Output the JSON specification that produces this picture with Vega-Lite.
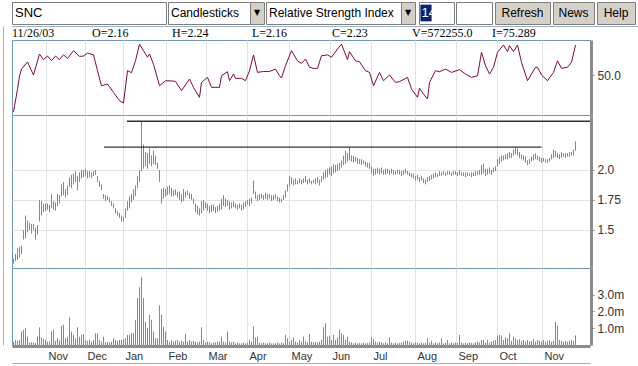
{
"$schema": "https://vega.github.io/schema/vega-lite/v6.json",
"background": "white",
"padding": {"left": 2, "top": 1, "right": 0, "bottom": 0},
"spacing": 1,
"config": {"view": {"stroke": null}, "text": {"font": "Liberation Sans", "fontSize": 12, "color": "#000000"}, "axis": {"title": null}},
"datasets": {
"info": [{"t":"11/26/03"},{"t":"O=2.16"},{"t":"H=2.24"},{"t":"L=2.16"},{"t":"C=2.23"},{"t":"V=572255.0"},{"t":"I=75.289"}],
"tl": [{"a":56.75,"b":288.25,"p":2.406},{"a":45.25,"b":264,"p":2.19}],
"rsi": [{"i":0,"r":19},{"i":2,"r":38},{"i":3,"r":49},{"i":4,"r":55},{"i":7,"r":61},{"i":10,"r":50},{"i":13,"r":67.7},{"i":15,"r":63},{"i":17,"r":66},{"i":19,"r":62},{"i":21,"r":66},{"i":23,"r":63},{"i":25,"r":67},{"i":27,"r":64},{"i":30,"r":70.5},{"i":33,"r":65.7},{"i":35,"r":66},{"i":37,"r":68.5},{"i":40,"r":67},{"i":42,"r":53.6},{"i":44,"r":41},{"i":47,"r":42.4},{"i":50,"r":35.4},{"i":53,"r":28.4},{"i":55,"r":26.4},{"i":57,"r":53.6},{"i":59,"r":52},{"i":61,"r":62},{"i":63,"r":76},{"i":65,"r":70.5},{"i":67,"r":65},{"i":68,"r":67.7},{"i":70,"r":59},{"i":73,"r":41},{"i":76,"r":45.2},{"i":79,"r":45},{"i":81,"r":44.7},{"i":84,"r":36.8},{"i":88,"r":46.6},{"i":90,"r":39.6},{"i":93,"r":31.2},{"i":94,"r":43.8},{"i":97,"r":48},{"i":99,"r":39.6},{"i":103,"r":39.6},{"i":104,"r":49.4},{"i":107,"r":52.8},{"i":108,"r":45.2},{"i":110,"r":50.8},{"i":111,"r":47.2},{"i":114,"r":47.2},{"i":116,"r":45.2},{"i":118,"r":53.6},{"i":120,"r":66.9},{"i":122,"r":52.2},{"i":125,"r":53},{"i":128,"r":53},{"i":131,"r":55},{"i":133,"r":49.4},{"i":134,"r":47.5},{"i":136,"r":57.9},{"i":139,"r":70.5},{"i":142,"r":62},{"i":144,"r":59.8},{"i":146,"r":63.5},{"i":148,"r":56.5},{"i":150,"r":55.6},{"i":152,"r":55.6},{"i":154,"r":66.3},{"i":157,"r":66.9},{"i":159,"r":65},{"i":162,"r":71.9},{"i":164,"r":76.1},{"i":167,"r":62.9},{"i":168,"r":69.7},{"i":171,"r":62},{"i":173,"r":61.2},{"i":176,"r":53.6},{"i":178,"r":52.2},{"i":180,"r":41},{"i":183,"r":52.2},{"i":185,"r":45.2},{"i":188,"r":50},{"i":191,"r":43.8},{"i":193,"r":44.4},{"i":197,"r":48},{"i":199,"r":38.2},{"i":202,"r":31.2},{"i":203,"r":38.8},{"i":205,"r":34},{"i":207,"r":29.8},{"i":208,"r":43.8},{"i":211,"r":53.6},{"i":213,"r":52.8},{"i":216,"r":55},{"i":219,"r":52.2},{"i":223,"r":54.5},{"i":226,"r":50.8},{"i":229,"r":48},{"i":232,"r":49.4},{"i":234,"r":69.1},{"i":236,"r":57.9},{"i":238,"r":50.8},{"i":240,"r":56.5},{"i":242,"r":69.1},{"i":245,"r":75.3},{"i":247,"r":69.7},{"i":248,"r":74.7},{"i":250,"r":69.7},{"i":252,"r":75.3},{"i":254,"r":60.7},{"i":257,"r":45.2},{"i":261,"r":56.5},{"i":262,"r":56.5},{"i":264,"r":50},{"i":267,"r":45.2},{"i":270,"r":52.2},{"i":272,"r":62},{"i":274,"r":55.6},{"i":277,"r":56.5},{"i":279,"r":60.7},{"i":281,"r":75.289}],
"d": [
{"i":0,"l":1.22,"h":1.26,"v":0.2},{"i":1,"l":1.24,"h":1.30,"v":0.3},{"i":2,"l":1.25,"h":1.35,"v":0.25},{"i":3,"l":1.27,"h":1.36,"v":0.3},{"i":4,"l":1.30,"h":1.37,"v":0.8},{"i":5,"l":1.42,"h":1.50,"v":0.9},{"i":6,"l":1.43,"h":1.62,"v":1.0},{"i":7,"l":1.48,"h":1.58,"v":0.5},{"i":8,"l":1.50,"h":1.56,"v":0.15},{"i":9,"l":1.47,"h":1.55,"v":0.15},
{"i":10,"l":1.50,"h":1.55,"v":0.15},{"i":11,"l":1.42,"h":1.52,"v":0.12},{"i":12,"l":1.46,"h":1.54,"v":0.5},{"i":13,"l":1.57,"h":1.75,"v":1.05},{"i":14,"l":1.62,"h":1.74,"v":0.45},{"i":15,"l":1.65,"h":1.72,"v":0.35},{"i":16,"l":1.66,"h":1.72,"v":0.3},{"i":17,"l":1.67,"h":1.72,"v":0.2},{"i":18,"l":1.65,"h":1.71,"v":0.2},{"i":19,"l":1.68,"h":1.80,"v":0.8},
{"i":20,"l":1.67,"h":1.74,"v":0.9},{"i":21,"l":1.66,"h":1.73,"v":0.25},{"i":22,"l":1.70,"h":1.80,"v":0.4},{"i":23,"l":1.72,"h":1.79,"v":0.3},{"i":24,"l":1.78,"h":1.88,"v":1.15},{"i":25,"l":1.79,"h":1.90,"v":1.2},{"i":26,"l":1.77,"h":1.84,"v":0.4},{"i":27,"l":1.79,"h":1.87,"v":0.5},{"i":28,"l":1.86,"h":1.94,"v":1.65},{"i":29,"l":1.85,"h":1.96,"v":0.8},
{"i":30,"l":1.88,"h":1.97,"v":0.6},{"i":31,"l":1.90,"h":1.99,"v":0.4},{"i":32,"l":1.83,"h":1.95,"v":1.05},{"i":33,"l":1.90,"h":1.98,"v":0.5},{"i":34,"l":1.93,"h":2.00,"v":0.6},{"i":35,"l":1.94,"h":2.00,"v":0.65},{"i":36,"l":1.95,"h":2.01,"v":0.3},{"i":37,"l":1.93,"h":1.99,"v":0.25},{"i":38,"l":1.94,"h":1.99,"v":0.3},{"i":39,"l":1.93,"h":1.98,"v":0.2},
{"i":40,"l":1.95,"h":1.99,"v":0.3},{"i":41,"l":1.96,"h":2.00,"v":0.7},{"i":42,"l":1.90,"h":1.95,"v":0.7},{"i":43,"l":1.86,"h":1.91,"v":0.3},{"i":44,"l":1.83,"h":1.88,"v":0.2},{"i":45,"l":1.76,"h":1.80,"v":0.5},{"i":46,"l":1.74,"h":1.79,"v":0.15},{"i":47,"l":1.75,"h":1.78,"v":0.2},{"i":48,"l":1.73,"h":1.77,"v":0.15},{"i":49,"l":1.70,"h":1.74,"v":0.2},
{"i":50,"l":1.68,"h":1.72,"v":0.4},{"i":51,"l":1.64,"h":1.68,"v":0.3},{"i":52,"l":1.62,"h":1.66,"v":0.25},{"i":53,"l":1.60,"h":1.64,"v":0.3},{"i":54,"l":1.57,"h":1.62,"v":0.3},{"i":55,"l":1.57,"h":1.61,"v":0.35},{"i":56,"l":1.60,"h":1.68,"v":0.4},{"i":57,"l":1.66,"h":1.74,"v":0.6},{"i":58,"l":1.68,"h":1.78,"v":0.6},{"i":59,"l":1.73,"h":1.80,"v":0.7},
{"i":60,"l":1.75,"h":1.84,"v":0.7},{"i":61,"l":1.78,"h":1.87,"v":1.5},{"i":62,"l":1.85,"h":1.95,"v":2.8},{"i":63,"l":1.90,"h":2.00,"v":3.44},{"i":64,"l":1.99,"h":2.41,"v":4.04},{"i":65,"l":2.01,"h":2.21,"v":2.8},{"i":66,"l":2.03,"h":2.15,"v":1.38},{"i":67,"l":2.01,"h":2.14,"v":1.0},{"i":68,"l":2.05,"h":2.18,"v":1.8},{"i":69,"l":2.03,"h":2.12,"v":1.5},
{"i":70,"l":2.05,"h":2.16,"v":0.8},{"i":71,"l":2.04,"h":2.12,"v":0.4},{"i":72,"l":2.01,"h":2.06,"v":0.4},{"i":73,"l":1.90,"h":2.00,"v":2.37},{"i":74,"l":1.72,"h":1.84,"v":1.8},{"i":75,"l":1.76,"h":1.85,"v":1.08},{"i":76,"l":1.78,"h":1.84,"v":0.8},{"i":77,"l":1.79,"h":1.86,"v":0.3},{"i":78,"l":1.80,"h":1.87,"v":0.2},{"i":79,"l":1.78,"h":1.85,"v":0.3},
{"i":80,"l":1.78,"h":1.83,"v":0.2},{"i":81,"l":1.79,"h":1.84,"v":0.25},{"i":82,"l":1.77,"h":1.82,"v":0.3},{"i":83,"l":1.75,"h":1.82,"v":0.2},{"i":84,"l":1.73,"h":1.80,"v":0.25},{"i":85,"l":1.74,"h":1.84,"v":0.2},{"i":86,"l":1.77,"h":1.82,"v":0.65},{"i":87,"l":1.79,"h":1.83,"v":0.2},{"i":88,"l":1.76,"h":1.81,"v":0.3},{"i":89,"l":1.75,"h":1.80,"v":0.2},
{"i":90,"l":1.72,"h":1.76,"v":0.25},{"i":91,"l":1.65,"h":1.72,"v":0.2},{"i":92,"l":1.63,"h":1.70,"v":0.15},{"i":93,"l":1.62,"h":1.68,"v":0.2},{"i":94,"l":1.64,"h":1.74,"v":1.05},{"i":95,"l":1.66,"h":1.75,"v":0.3},{"i":96,"l":1.68,"h":1.73,"v":0.15},{"i":97,"l":1.66,"h":1.72,"v":0.2},{"i":98,"l":1.64,"h":1.70,"v":0.15},{"i":99,"l":1.65,"h":1.71,"v":0.1},
{"i":100,"l":1.66,"h":1.71,"v":0.15},{"i":101,"l":1.64,"h":1.69,"v":0.15},{"i":102,"l":1.65,"h":1.70,"v":0.2},{"i":103,"l":1.66,"h":1.72,"v":0.2},{"i":104,"l":1.67,"h":1.76,"v":0.5},{"i":105,"l":1.70,"h":1.79,"v":0.2},{"i":106,"l":1.69,"h":1.76,"v":0.15},{"i":107,"l":1.70,"h":1.75,"v":0.8},{"i":108,"l":1.67,"h":1.74,"v":0.2},{"i":109,"l":1.68,"h":1.73,"v":0.15},
{"i":110,"l":1.69,"h":1.74,"v":0.2},{"i":111,"l":1.68,"h":1.72,"v":0.1},{"i":112,"l":1.67,"h":1.71,"v":0.15},{"i":113,"l":1.68,"h":1.72,"v":0.1},{"i":114,"l":1.66,"h":1.71,"v":0.1},{"i":115,"l":1.67,"h":1.73,"v":0.15},{"i":116,"l":1.69,"h":1.74,"v":0.1},{"i":117,"l":1.71,"h":1.75,"v":0.15},{"i":118,"l":1.70,"h":1.76,"v":0.3},{"i":119,"l":1.72,"h":1.77,"v":0.2},
{"i":120,"l":1.80,"h":1.91,"v":1.1},{"i":121,"l":1.76,"h":1.82,"v":0.45},{"i":122,"l":1.74,"h":1.79,"v":0.5},{"i":123,"l":1.75,"h":1.80,"v":0.15},{"i":124,"l":1.76,"h":1.80,"v":0.1},{"i":125,"l":1.75,"h":1.79,"v":0.15},{"i":126,"l":1.76,"h":1.81,"v":0.1},{"i":127,"l":1.75,"h":1.80,"v":0.1},{"i":128,"l":1.76,"h":1.80,"v":0.15},{"i":129,"l":1.74,"h":1.79,"v":0.1},
{"i":130,"l":1.75,"h":1.79,"v":0.1},{"i":131,"l":1.76,"h":1.80,"v":0.1},{"i":132,"l":1.74,"h":1.78,"v":0.15},{"i":133,"l":1.73,"h":1.77,"v":0.1},{"i":134,"l":1.73,"h":1.76,"v":0.15},{"i":135,"l":1.75,"h":1.79,"v":0.1},{"i":136,"l":1.77,"h":1.83,"v":0.6},{"i":137,"l":1.82,"h":1.88,"v":0.4},{"i":138,"l":1.86,"h":1.95,"v":0.2},{"i":139,"l":1.88,"h":1.94,"v":0.3},
{"i":140,"l":1.87,"h":1.92,"v":0.45},{"i":141,"l":1.88,"h":1.93,"v":0.2},{"i":142,"l":1.88,"h":1.91,"v":0.15},{"i":143,"l":1.89,"h":1.93,"v":0.3},{"i":144,"l":1.88,"h":1.92,"v":0.2},{"i":145,"l":1.89,"h":1.93,"v":0.5},{"i":146,"l":1.90,"h":1.95,"v":0.2},{"i":147,"l":1.88,"h":1.92,"v":0.15},{"i":148,"l":1.89,"h":1.93,"v":0.65},{"i":149,"l":1.88,"h":1.91,"v":0.2},
{"i":150,"l":1.89,"h":1.92,"v":0.15},{"i":151,"l":1.88,"h":1.93,"v":0.2},{"i":152,"l":1.89,"h":1.94,"v":0.15},{"i":153,"l":1.87,"h":1.92,"v":0.2},{"i":154,"l":1.90,"h":1.95,"v":0.3},{"i":155,"l":1.92,"h":1.98,"v":1.05},{"i":156,"l":1.93,"h":2.00,"v":1.3},{"i":157,"l":1.94,"h":2.01,"v":0.5},{"i":158,"l":1.96,"h":2.02,"v":0.55},{"i":159,"l":1.95,"h":2.03,"v":0.3},
{"i":160,"l":1.97,"h":2.05,"v":0.6},{"i":161,"l":1.98,"h":2.04,"v":0.3},{"i":162,"l":1.99,"h":2.05,"v":0.45},{"i":163,"l":2.00,"h":2.06,"v":0.9},{"i":164,"l":2.02,"h":2.08,"v":0.7},{"i":165,"l":2.04,"h":2.12,"v":0.6},{"i":166,"l":2.05,"h":2.16,"v":0.3},{"i":167,"l":2.07,"h":2.14,"v":0.5},{"i":168,"l":2.08,"h":2.19,"v":0.2},{"i":169,"l":2.07,"h":2.12,"v":0.15},
{"i":170,"l":2.06,"h":2.12,"v":0.1},{"i":171,"l":2.07,"h":2.11,"v":0.15},{"i":172,"l":2.05,"h":2.10,"v":0.1},{"i":173,"l":2.05,"h":2.09,"v":0.12},{"i":174,"l":2.04,"h":2.09,"v":0.1},{"i":175,"l":2.05,"h":2.08,"v":0.15},{"i":176,"l":2.03,"h":2.07,"v":0.1},{"i":177,"l":2.02,"h":2.06,"v":0.12},{"i":178,"l":2.01,"h":2.06,"v":0.15},{"i":179,"l":1.97,"h":2.03,"v":0.45},
{"i":180,"l":1.95,"h":2.01,"v":0.35},{"i":181,"l":1.96,"h":2.01,"v":0.2},{"i":182,"l":1.97,"h":2.02,"v":0.15},{"i":183,"l":1.96,"h":2.01,"v":0.2},{"i":184,"l":1.97,"h":2.02,"v":0.15},{"i":185,"l":1.96,"h":2.00,"v":0.1},{"i":186,"l":1.96,"h":2.01,"v":0.15},{"i":187,"l":1.97,"h":2.01,"v":0.1},{"i":188,"l":1.96,"h":2.00,"v":0.45},{"i":189,"l":1.97,"h":2.01,"v":0.15},
{"i":190,"l":1.96,"h":2.00,"v":0.1},{"i":191,"l":1.96,"h":1.99,"v":0.15},{"i":192,"l":1.97,"h":2.00,"v":0.1},{"i":193,"l":1.96,"h":2.00,"v":0.12},{"i":194,"l":1.95,"h":1.99,"v":0.15},{"i":195,"l":1.96,"h":2.00,"v":0.2},{"i":196,"l":1.97,"h":2.01,"v":0.25},{"i":197,"l":1.96,"h":1.99,"v":0.25},{"i":198,"l":1.95,"h":1.98,"v":0.2},{"i":199,"l":1.94,"h":1.97,"v":0.15},
{"i":200,"l":1.93,"h":1.97,"v":0.1},{"i":201,"l":1.91,"h":1.95,"v":0.15},{"i":202,"l":1.92,"h":1.96,"v":0.12},{"i":203,"l":1.90,"h":1.94,"v":0.1},{"i":204,"l":1.91,"h":1.95,"v":0.15},{"i":205,"l":1.89,"h":1.93,"v":0.1},{"i":206,"l":1.88,"h":1.92,"v":0.12},{"i":207,"l":1.90,"h":1.94,"v":0.4},{"i":208,"l":1.91,"h":1.95,"v":0.15},{"i":209,"l":1.92,"h":1.96,"v":0.25},
{"i":210,"l":1.93,"h":1.97,"v":0.1},{"i":211,"l":1.94,"h":1.98,"v":0.15},{"i":212,"l":1.94,"h":1.97,"v":0.1},{"i":213,"l":1.95,"h":1.99,"v":0.15},{"i":214,"l":1.95,"h":1.98,"v":0.4},{"i":215,"l":1.96,"h":1.99,"v":0.1},{"i":216,"l":1.95,"h":1.98,"v":0.15},{"i":217,"l":1.96,"h":1.99,"v":0.3},{"i":218,"l":1.96,"h":1.99,"v":0.1},{"i":219,"l":1.95,"h":1.98,"v":0.15},
{"i":220,"l":1.96,"h":1.99,"v":0.1},{"i":221,"l":1.96,"h":1.99,"v":0.15},{"i":222,"l":1.95,"h":1.98,"v":0.12},{"i":223,"l":1.96,"h":2.00,"v":0.6},{"i":224,"l":1.95,"h":1.98,"v":0.15},{"i":225,"l":1.95,"h":1.98,"v":0.1},{"i":226,"l":1.94,"h":1.98,"v":0.12},{"i":227,"l":1.95,"h":1.98,"v":0.1},{"i":228,"l":1.95,"h":1.97,"v":0.15},{"i":229,"l":1.94,"h":1.98,"v":0.12},
{"i":230,"l":1.95,"h":1.98,"v":0.1},{"i":231,"l":1.95,"h":1.99,"v":0.15},{"i":232,"l":1.96,"h":1.99,"v":0.2},{"i":233,"l":1.96,"h":2.00,"v":0.15},{"i":234,"l":1.96,"h":2.04,"v":0.3},{"i":235,"l":1.97,"h":2.05,"v":0.3},{"i":236,"l":1.95,"h":2.01,"v":0.15},{"i":237,"l":1.96,"h":2.01,"v":0.3},{"i":238,"l":1.97,"h":2.02,"v":0.15},{"i":239,"l":1.96,"h":2.00,"v":0.2},
{"i":240,"l":1.98,"h":2.02,"v":0.25},{"i":241,"l":1.99,"h":2.03,"v":0.3},{"i":242,"l":2.03,"h":2.09,"v":0.55},{"i":243,"l":2.05,"h":2.11,"v":0.6},{"i":244,"l":2.07,"h":2.12,"v":0.55},{"i":245,"l":2.08,"h":2.12,"v":0.3},{"i":246,"l":2.09,"h":2.13,"v":0.45},{"i":247,"l":2.09,"h":2.14,"v":0.4},{"i":248,"l":2.10,"h":2.15,"v":0.7},{"i":249,"l":2.10,"h":2.14,"v":0.25},
{"i":250,"l":2.12,"h":2.17,"v":0.5},{"i":251,"l":2.13,"h":2.19,"v":0.4},{"i":252,"l":2.12,"h":2.18,"v":0.3},{"i":253,"l":2.10,"h":2.15,"v":0.35},{"i":254,"l":2.09,"h":2.13,"v":0.25},{"i":255,"l":2.08,"h":2.12,"v":0.3},{"i":256,"l":2.06,"h":2.11,"v":0.2},{"i":257,"l":2.04,"h":2.08,"v":0.3},{"i":258,"l":2.05,"h":2.09,"v":0.2},{"i":259,"l":2.07,"h":2.11,"v":0.25},
{"i":260,"l":2.08,"h":2.13,"v":0.35},{"i":261,"l":2.09,"h":2.14,"v":0.2},{"i":262,"l":2.08,"h":2.12,"v":0.3},{"i":263,"l":2.07,"h":2.11,"v":0.25},{"i":264,"l":2.06,"h":2.10,"v":0.2},{"i":265,"l":2.07,"h":2.10,"v":0.3},{"i":266,"l":2.06,"h":2.09,"v":0.2},{"i":267,"l":2.06,"h":2.09,"v":0.25},{"i":268,"l":2.07,"h":2.10,"v":0.3},{"i":269,"l":2.09,"h":2.13,"v":0.2},
{"i":270,"l":2.10,"h":2.17,"v":0.25},{"i":271,"l":2.11,"h":2.16,"v":1.38},{"i":272,"l":2.10,"h":2.14,"v":1.15},{"i":273,"l":2.09,"h":2.13,"v":0.3},{"i":274,"l":2.10,"h":2.15,"v":0.25},{"i":275,"l":2.11,"h":2.14,"v":0.2},{"i":276,"l":2.10,"h":2.14,"v":0.25},{"i":277,"l":2.11,"h":2.14,"v":0.2},{"i":278,"l":2.11,"h":2.15,"v":0.25},{"i":279,"l":2.12,"h":2.15,"v":0.3},
{"i":280,"l":2.12,"h":2.17,"v":0.25},{"i":281,"l":2.16,"h":2.24,"v":0.57}
]
},
"vconcat": [
{
"spacing": 0,
"bounds": "flush",
"hconcat": [
{"width": 154, "height": 22, "view": {"fill": "#ffffff", "stroke": "#7f7f7f"}, "data": {"values": [{"t": "SNC"}]}, "mark": {"type": "text", "align": "left", "baseline": "middle", "dx": 3, "fontSize": 13}, "encoding": {"text": {"field": "t"}, "x": {"datum": 0, "type": "quantitative", "scale": {"domain": [0, 1]}, "axis": null}}},
{"width": 2, "height": 22, "data": {"values": [{"t": ""}]}, "mark": {"type": "text"}, "encoding": {"text": {"field": "t"}}},
{"width": 82, "height": 22, "view": {"fill": "#ffffff", "stroke": "#7f7f7f"}, "data": {"values": [{"t": "Candlesticks"}]}, "mark": {"type": "text", "align": "left", "baseline": "middle", "dx": 3, "fontSize": 12}, "encoding": {"text": {"field": "t"}, "x": {"datum": 0, "type": "quantitative", "scale": {"domain": [0, 1]}, "axis": null}}},
{"width": 14, "height": 22, "view": {"fill": "#d4d0c8", "stroke": "#7f7f7f"}, "data": {"values": [{"t": "▼"}]}, "mark": {"type": "text", "baseline": "middle", "fontSize": 8, "font": "DejaVu Sans"}, "encoding": {"text": {"field": "t"}}},
{"width": 2, "height": 22, "data": {"values": [{"t": ""}]}, "mark": {"type": "text"}, "encoding": {"text": {"field": "t"}}},
{"width": 135, "height": 22, "view": {"fill": "#ffffff", "stroke": "#7f7f7f"}, "data": {"values": [{"t": "Relative Strength Index"}]}, "mark": {"type": "text", "align": "left", "baseline": "middle", "dx": 3, "fontSize": 12}, "encoding": {"text": {"field": "t"}, "x": {"datum": 0, "type": "quantitative", "scale": {"domain": [0, 1]}, "axis": null}}},
{"width": 14, "height": 22, "view": {"fill": "#d4d0c8", "stroke": "#7f7f7f"}, "data": {"values": [{"t": "▼"}]}, "mark": {"type": "text", "baseline": "middle", "fontSize": 8, "font": "DejaVu Sans"}, "encoding": {"text": {"field": "t"}}},
{"width": 4, "height": 22, "data": {"values": [{"t": ""}]}, "mark": {"type": "text"}, "encoding": {"text": {"field": "t"}}},
{"width": 35, "height": 22, "view": {"fill": "#ffffff", "stroke": "#7f7f7f"}, "data": {"values": [{"t": "14"}]},
 "layer": [
  {"mark": {"type": "rect", "color": "#0a246a"}, "encoding": {"x": {"datum": 0.04, "type": "quantitative", "scale": {"domain": [0, 1]}, "axis": null}, "x2": {"datum": 0.36}, "y": {"datum": 0.12, "type": "quantitative", "scale": {"domain": [0, 1]}, "axis": null}, "y2": {"datum": 0.88}}},
  {"mark": {"type": "text", "align": "left", "baseline": "middle", "dx": 1, "fontSize": 13, "color": "#ffffff"}, "encoding": {"text": {"field": "t"}, "x": {"datum": 0.04, "type": "quantitative", "scale": {"domain": [0, 1]}, "axis": null}}}
 ]},
{"width": 2, "height": 22, "data": {"values": [{"t": ""}]}, "mark": {"type": "text"}, "encoding": {"text": {"field": "t"}}},
{"width": 36, "height": 22, "view": {"fill": "#ffffff", "stroke": "#7f7f7f"}, "data": {"values": [{"t": ""}]}, "mark": {"type": "text"}, "encoding": {"text": {"field": "t"}}},
{"width": 3, "height": 22, "data": {"values": [{"t": ""}]}, "mark": {"type": "text"}, "encoding": {"text": {"field": "t"}}},
{"width": 55, "height": 22, "view": {"fill": "#d4d0c8", "stroke": "#7f7f7f"}, "data": {"values": [{"t": "Refresh"}]}, "mark": {"type": "text", "baseline": "middle", "fontSize": 12}, "encoding": {"text": {"field": "t"}}},
{"width": 3, "height": 22, "data": {"values": [{"t": ""}]}, "mark": {"type": "text"}, "encoding": {"text": {"field": "t"}}},
{"width": 41, "height": 22, "view": {"fill": "#d4d0c8", "stroke": "#7f7f7f"}, "data": {"values": [{"t": "News"}]}, "mark": {"type": "text", "baseline": "middle", "fontSize": 12}, "encoding": {"text": {"field": "t"}}},
{"width": 3, "height": 22, "data": {"values": [{"t": ""}]}, "mark": {"type": "text"}, "encoding": {"text": {"field": "t"}}},
{"width": 38, "height": 22, "view": {"fill": "#d4d0c8", "stroke": "#7f7f7f"}, "data": {"values": [{"t": "Help"}]}, "mark": {"type": "text", "baseline": "middle", "fontSize": 12}, "encoding": {"text": {"field": "t"}}}
]
},
{
"spacing": 0,
"bounds": "flush",
"vconcat": [
{
"width": 626, "height": 14,
"data": {"name": "info"},
"mark": {"type": "text", "align": "left", "baseline": "middle", "font": "Liberation Serif", "fontSize": 12, "color": "#000000"},
"encoding": {
 "text": {"field": "t"},
 "x": {"field": "t", "type": "nominal", "sort": null, "bandPosition": 0, "scale": {"type": "band", "paddingInner": 0, "paddingOuter": 0.4125, "align": 0}, "axis": {"orient": "top", "domain": true, "domainColor": "#9cb3c8", "ticks": false, "labels": false, "grid": false, "title": null}},
 "y": {"datum": 0, "type": "quantitative", "scale": {"domain": [-1, 1]}, "axis": {"orient": "left", "offset": 9, "domain": true, "domainColor": "#9cb3c8", "ticks": false, "labels": false, "grid": false, "title": null}}
}
},
{
"width": 578, "height": 75,
"view": {"fill": "#ffffff", "stroke": "#6f96b6"},
"data": {"name": "rsi"},
"resolve": {"axis": {"y": "independent"}},
"layer": [
 {"mark": {"type": "line", "color": "#7d0c35", "strokeWidth": 1},
  "encoding": {
   "x": {"field": "i", "type": "quantitative", "scale": {"domain": [-0.75, 288.25], "nice": false, "zero": false}, "axis": {"orient": "bottom", "values": [16.25,35.75,54.75,76.25,96.25,116.75,137.75,158.25,178.75,200.75,221.25,241.75,264.25], "grid": true, "gridColor": "#e2e2e2", "domain": false, "ticks": false, "labels": false, "title": null}},
   "y": {"field": "r", "type": "quantitative", "scale": {"domain": [16.3, 79.5], "nice": false, "zero": false}, "axis": {"orient": "right", "values": [50], "labelExpr": "'50.0'", "offset": 1, "domain": true, "domainColor": "#8c8c8c", "domainWidth": 3, "ticks": true, "tickColor": "#8c8c8c", "tickSize": 3, "labelPadding": 3, "labelFont": "Liberation Sans", "labelFontSize": 12, "labelColor": "#333333", "grid": false, "title": null}}
  }},
 {"mark": {"type": "line", "opacity": 0},
  "encoding": {
   "x": {"field": "i", "type": "quantitative", "scale": {"domain": [-0.75, 288.25], "nice": false, "zero": false}, "axis": {"orient": "bottom", "values": [16.25,35.75,54.75,76.25,96.25,116.75,137.75,158.25,178.75,200.75,221.25,241.75,264.25], "grid": true, "gridColor": "#e2e2e2", "domain": false, "ticks": false, "labels": false, "title": null}},
   "y": {"field": "r", "type": "quantitative", "scale": {"domain": [16.3, 79.5], "nice": false, "zero": false}, "axis": {"orient": "left", "offset": 9, "domain": true, "domainColor": "#9cb3c8", "ticks": false, "labels": false, "grid": false, "title": null}}
  }}
]
},
{
"width": 578, "height": 153,
"view": {"fill": "#ffffff", "stroke": "#6f96b6"},
"resolve": {"axis": {"y": "independent"}},
"layer": [
 {"data": {"name": "d"}, "mark": {"type": "rule", "color": "#6a8fad", "strokeWidth": 1},
  "encoding": {
   "x": {"field": "i", "type": "quantitative", "scale": {"domain": [-0.75, 288.25], "nice": false, "zero": false}, "axis": {"orient": "bottom", "values": [16.25,35.75,54.75,76.25,96.25,116.75,137.75,158.25,178.75,200.75,221.25,241.75,264.25], "grid": true, "gridColor": "#e2e2e2", "domain": false, "ticks": false, "labels": false, "title": null}},
   "y": {"field": "l", "type": "quantitative", "scale": {"domain": [1.183, 2.458], "nice": false, "zero": false}, "axis": {"orient": "right", "values": [1.5, 1.75, 2.0], "labelExpr": "datum.value == 1.75 ? '1.75' : format(datum.value, '.1f')", "offset": 1, "domain": true, "domainColor": "#8c8c8c", "domainWidth": 3, "ticks": true, "tickColor": "#8c8c8c", "tickSize": 3, "labelPadding": 3, "labelFont": "Liberation Sans", "labelFontSize": 12, "labelColor": "#333333", "grid": true, "gridColor": "#e2e2e2", "title": null}},
   "y2": {"field": "h"}
  }},
 {"data": {"name": "tl"}, "mark": {"type": "rule", "color": "#333333", "strokeWidth": 1.3},
  "encoding": {
   "x": {"field": "a", "type": "quantitative", "scale": {"domain": [-0.75, 288.25], "nice": false, "zero": false}, "axis": {"orient": "bottom", "values": [16.25,35.75,54.75,76.25,96.25,116.75,137.75,158.25,178.75,200.75,221.25,241.75,264.25], "grid": true, "gridColor": "#e2e2e2", "domain": false, "ticks": false, "labels": false, "title": null}},
   "x2": {"field": "b"},
   "y": {"field": "p", "type": "quantitative", "scale": {"domain": [1.183, 2.458], "nice": false, "zero": false}, "axis": {"orient": "left", "offset": 9, "domain": true, "domainColor": "#9cb3c8", "ticks": false, "labels": false, "grid": false, "title": null}}
  }}
]
},
{
"width": 578, "height": 77,
"view": {"fill": "#ffffff", "stroke": "#6f96b6"},
"data": {"name": "d"},
"resolve": {"axis": {"y": "independent", "x": "independent"}},
"layer": [
 {"mark": {"type": "rule", "color": "#6a8fad", "strokeWidth": 1},
  "encoding": {
   "x": {"field": "i", "type": "quantitative", "scale": {"domain": [-0.75, 288.25], "nice": false, "zero": false}, "axis": {"orient": "bottom", "values": [16.25,35.75,54.75,76.25,96.25,116.75,137.75,158.25,178.75,200.75,221.25,241.75,264.25], "labelExpr": "['Nov','Dec','Jan','Feb','Mar','Apr','May','Jun','Jul','Aug','Sep','Oct','Nov'][indexof([16.25,35.75,54.75,76.25,96.25,116.75,137.75,158.25,178.75,200.75,221.25,241.75,264.25], datum.value)]", "grid": true, "gridColor": "#e2e2e2", "domain": true, "domainColor": "#8c8c8c", "domainWidth": 3, "offset": 1, "ticks": false, "labels": true, "labelAlign": "left", "labelOffset": 2, "labelPadding": 4, "labelFont": "Liberation Sans", "labelFontSize": 11, "labelColor": "#333333", "title": null}},
   "y": {"field": "v", "type": "quantitative", "scale": {"domain": [0, 4.58], "nice": false}, "axis": {"orient": "right", "values": [1, 2, 3], "labelExpr": "format(datum.value, '.1f') + 'm'", "offset": 1, "domain": true, "domainColor": "#8c8c8c", "domainWidth": 3, "ticks": true, "tickColor": "#8c8c8c", "tickSize": 3, "labelPadding": 3, "labelFont": "Liberation Sans", "labelFontSize": 12, "labelColor": "#333333", "grid": false, "title": null}},
   "y2": {"datum": 0}
  }},
 {"mark": {"type": "line", "opacity": 0},
  "encoding": {
   "x": {"field": "i", "type": "quantitative", "scale": {"domain": [-0.75, 288.25], "nice": false, "zero": false}, "axis": {"orient": "bottom", "offset": 18, "domain": true, "domainColor": "#9cb3c8", "ticks": false, "labels": false, "grid": false, "title": null}},
   "y": {"field": "v", "type": "quantitative", "scale": {"domain": [0, 4.58], "nice": false}, "axis": {"orient": "left", "offset": 9, "domain": true, "domainColor": "#9cb3c8", "ticks": false, "labels": false, "grid": false, "title": null}}
  }}
]
}
]
}
]
}
